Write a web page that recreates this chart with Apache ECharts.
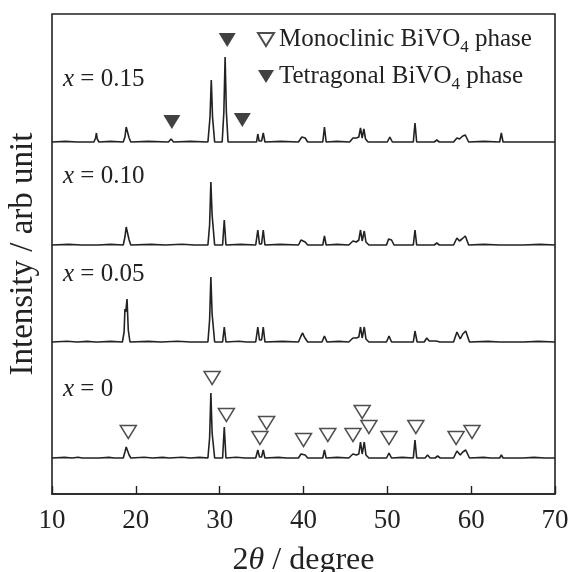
<!DOCTYPE html>
<html>
<head>
<meta charset="utf-8">
<script src="https://cdn.jsdelivr.net/npm/echarts@6/dist/echarts.min.js"></script>
<style>
  html, body { margin: 0; padding: 0; background: #fff; }
  #xrd { width: 571px; height: 572px; }
</style>
</head>
<body>
<div id="xrd"></div>
<script>
// 2theta / intensity pairs, intensity relative to each trace's own baseline
const samples = ["x = 0", "x = 0.05", "x = 0.10", "x = 0.15"];
const baselines = [36, 152, 249, 352];

const trace0 = [
  [10, 0], [11.5, 0.6], [12.4, 0], [13.1, 0.8], [13.6, 0], [15.2, 0], [15.4, 2], [15.6, 0],
  [16.8, 0.6], [17.4, 0], [18.5, 0], [18.7, 6], [18.85, 11], [18.95, 12], [19.05, 10], [19.2, 3], [19.4, 0],
  [21.0, 0.7], [22.0, 0], [23.2, 0.6], [24.0, 0], [25.5, 0.7], [26.5, 0], [27.6, 0.6],
  [28.6, 0], [28.8, 20], [28.95, 65], [29.1, 25], [29.4, 0],
  [30.35, 0], [30.55, 31], [30.75, 0], [32.0, 0.7], [33.0, 0],
  [34.3, 0], [34.55, 8], [34.75, 1], [35.0, 1], [35.2, 8], [35.4, 0],
  [37.0, 0.6], [38.0, 0], [39.4, 0], [39.7, 4], [39.9, 5], [40.2, 3], [40.5, 0],
  [42.3, 0], [42.5, 8], [42.7, 0], [44.0, 0.6],
  [45.4, 0], [45.9, 4], [46.3, 3], [46.6, 4], [46.8, 16], [47.0, 4], [47.25, 16], [47.45, 3], [47.8, 0],
  [49.9, 0], [50.2, 5], [50.5, 0], [51.8, 0.6],
  [53.1, 0], [53.3, 18], [53.5, 0],
  [54.5, 0], [54.8, 3], [55.1, 0], [55.7, 0], [56.0, 2], [56.3, 0],
  [57.9, 0], [58.3, 7], [58.7, 3], [59.0, 6], [59.35, 8], [59.8, 0],
  [61.5, 0.6], [62.3, 0], [63.4, 0], [63.6, 3], [63.8, 0], [65.8, 0], [66.0, 2], [66.2, 0],
  [67.5, 0.6], [68.8, 0], [69.0, 1], [69.2, 0], [70, 0]
];
const trace005 = [
  [10, 0], [11.8, 0.7], [13.0, 0], [14.2, 0.6], [15.2, 0], [15.35, 1], [15.5, 0], [17.0, 0.6],
  [18.4, 0], [18.6, 10], [18.7, 33], [18.8, 30], [18.95, 43], [19.1, 12], [19.3, 0],
  [21.5, 0.6], [23.0, 0], [25.0, 0.7], [26.5, 0],
  [28.6, 0], [28.8, 22], [28.95, 65], [29.1, 28], [29.4, 0],
  [30.35, 0], [30.55, 15], [30.75, 0], [32.3, 0.7], [33.2, 0],
  [34.3, 0], [34.55, 15], [34.75, 2], [35.0, 2], [35.2, 15], [35.4, 0],
  [37.5, 0.6], [39.4, 0], [39.7, 6], [39.9, 9], [40.1, 5], [40.5, 0],
  [42.2, 0], [42.5, 6], [42.8, 0], [44.2, 0.6],
  [45.4, 0], [45.9, 4], [46.3, 4], [46.6, 5], [46.8, 15], [47.0, 4], [47.25, 15], [47.45, 3], [47.8, 0],
  [49.9, 0], [50.2, 6], [50.5, 0],
  [53.1, 0], [53.3, 11], [53.55, 0],
  [54.4, 0], [54.7, 4], [55.0, 1], [55.8, 1], [56.0, 2], [56.3, 0],
  [57.9, 0], [58.3, 10], [58.7, 3], [59.0, 8], [59.35, 11], [59.8, 0],
  [62.0, 0.6], [63.4, 0], [63.6, 1], [63.8, 0], [65.9, 0], [66.0, 1], [66.2, 0], [68.0, 0.6], [70, 0]
];
const trace010 = [
  [10, 0], [12.0, 0.6], [13.5, 0], [15.2, 0], [15.35, 2], [15.5, 0], [17.0, 0.6],
  [18.5, 0], [18.7, 8], [18.85, 18], [18.95, 19], [19.05, 16], [19.2, 5], [19.4, 0],
  [21.8, 0.6], [23.5, 0], [25.5, 0.7], [27.0, 0],
  [28.6, 0], [28.8, 20], [28.95, 63], [29.1, 30], [29.4, 0],
  [30.35, 0], [30.55, 25], [30.75, 0], [32.5, 0.6],
  [34.3, 0], [34.55, 15], [34.75, 1], [35.0, 1], [35.2, 15], [35.4, 0],
  [37.2, 0.6], [39.4, 0], [39.7, 5], [39.9, 6], [40.2, 3], [40.5, 0],
  [42.3, 0], [42.5, 9], [42.7, 0], [44.0, 0.6],
  [45.4, 0], [45.9, 4], [46.3, 3], [46.6, 5], [46.8, 15], [47.0, 4], [47.25, 14], [47.45, 3], [47.8, 0],
  [49.9, 0], [50.15, 6], [50.35, 4], [50.5, 5], [50.8, 0],
  [53.1, 0], [53.3, 15], [53.5, 0],
  [55.6, 0], [55.9, 2], [56.2, 0],
  [57.9, 0], [58.3, 7], [58.6, 4], [58.9, 6], [59.3, 9], [59.7, 0],
  [61.5, 0.6], [63.4, 0], [63.6, 2], [63.8, 0], [65.8, 0], [66.0, 2], [66.2, 0], [68.2, 0.6], [70, 0]
];
const trace015 = [
  [10, 0], [11.6, 0.6], [13.0, 0], [15.0, 0], [15.2, 4], [15.3, 9], [15.4, 3], [15.6, 0],
  [17.0, 0.6], [18.5, 0], [18.7, 5], [18.85, 15], [18.95, 17], [19.05, 14], [19.2, 4], [19.4, 0],
  [21.5, 0.6], [23.9, 0], [24.2, 3], [24.5, 0], [26.5, 0.6],
  [28.6, 0], [28.85, 25], [29.0, 62], [29.15, 25], [29.4, 0],
  [30.3, 0], [30.5, 30], [30.65, 85], [30.8, 30], [31.0, 0],
  [32.4, 0], [32.6, 2], [32.8, 0],
  [34.4, 0], [34.55, 8], [34.7, 1], [35.0, 1], [35.2, 9], [35.4, 0],
  [37.3, 0.6], [39.4, 0], [39.8, 5], [40.2, 4], [40.5, 0],
  [42.3, 0], [42.5, 15], [42.7, 0], [44.0, 0.6],
  [45.5, 0], [45.9, 4], [46.3, 4], [46.6, 5], [46.8, 14], [47.0, 4], [47.2, 13], [47.4, 3], [47.7, 0],
  [50.0, 0], [50.3, 5], [50.6, 0],
  [53.1, 0], [53.3, 19], [53.5, 0],
  [55.6, 0], [55.9, 2], [56.2, 0],
  [57.9, 0], [58.3, 4], [58.6, 3], [59.0, 6], [59.3, 7], [59.7, 0],
  [61.5, 0.6], [63.4, 0], [63.6, 9], [63.8, 0],
  [65.8, 0], [66.0, 2], [66.2, 0], [68.8, 0], [69.0, 2], [69.2, 0], [70, 0]
];
const traces = [trace0, trace005, trace010, trace015];

// phase markers (2theta, plot height)
const monoclinicMarks = [
  [19.1, 62], [29.1, 116], [30.8, 79], [34.8, 56], [35.6, 71], [40.0, 54], [42.9, 59],
  [45.9, 59], [47.0, 82], [47.8, 67], [50.2, 56], [53.4, 67], [58.2, 56], [60.1, 62]
];
const tetragonalMarks = [[24.3, 372], [30.9, 454], [32.7, 374]];

const xTicks = [10, 20, 30, 40, 50, 60, 70];

const serif = "Liberation Serif";
const ink = "#222";
const downTriangle = "path://M0,0L16,0L8,13Z";

const chart = echarts.init(document.getElementById("xrd"));

const lineSeries = traces.map((t, i) => ({
  name: samples[i],
  type: "line",
  data: t.map((p) => [p[0], p[1] + baselines[i]]),
  showSymbol: false,
  silent: true,
  lineStyle: { color: ink, width: 1.6 },
  z: 2,
}));

const richName = (name) => "{t|" + name.replace("BiVO4", "BiVO}{sub|4}{t|") + "}";

chart.setOption({
  animation: false,
  grid: {
    left: 52,
    right: 16,
    top: 14,
    bottom: 78,
    show: true,
    borderColor: ink,
    borderWidth: 1.6,
    outerBoundsMode: "none",
  },
  legend: {
    orient: "vertical",
    left: 252,
    top: 22,
    itemWidth: 16,
    itemHeight: 13,
    itemGap: 8,
    data: [
      { name: "Monoclinic BiVO4 phase", icon: downTriangle },
      { name: "Tetragonal BiVO4 phase", icon: downTriangle },
    ],
    formatter: richName,
    textStyle: {
      color: ink,
      fontFamily: serif,
      fontSize: 25,
      rich: {
        t: { fontFamily: serif, fontSize: 25, color: ink },
        sub: { fontFamily: serif, fontSize: 17, color: ink, padding: [16, 0, 0, 0] },
      },
    },
  },
  xAxis: {
    type: "value",
    min: xTicks[0],
    max: xTicks[xTicks.length - 1],
    interval: 10,
    name: "2{i|θ} / degree",
    nameLocation: "middle",
    nameGap: 51,
    nameTextStyle: {
      fontFamily: serif,
      fontSize: 32,
      color: ink,
      rich: { i: { fontFamily: serif, fontSize: 32, fontStyle: "italic", color: ink } },
    },
    axisLine: { lineStyle: { color: ink, width: 1.6 } },
    axisTick: { inside: true, length: 8, lineStyle: { color: ink, width: 1.4 } },
    axisLabel: { fontFamily: serif, fontSize: 27, color: ink, margin: 13 },
    splitLine: { show: false },
  },
  yAxis: {
    type: "value",
    min: 0,
    max: 480,
    name: "Intensity / arb unit",
    nameLocation: "middle",
    nameGap: 12,
    nameTextStyle: { fontFamily: serif, fontSize: 33, color: ink },
    axisLine: { show: false },
    axisTick: { show: false },
    axisLabel: { show: false },
    splitLine: { show: false },
  },
  graphic: samples.map((s, i) => ({
    type: "text",
    left: 63,
    top: [377, 262, 164, 67][i],
    style: {
      text: "{i|x} " + s.slice(2),
      fontFamily: serif,
      fontSize: 25,
      fill: ink,
      rich: { i: { fontFamily: serif, fontSize: 25, fontStyle: "italic", fill: ink } },
    },
  })),
  series: lineSeries.concat([
    {
      name: "Monoclinic BiVO4 phase",
      type: "scatter",
      data: monoclinicMarks,
      symbol: "triangle",
      symbolRotate: 180,
      symbolSize: [16, 13],
      itemStyle: { color: "#fff", borderColor: ink, borderWidth: 1.5 },
      silent: true,
      z: 5,
    },
    {
      name: "Tetragonal BiVO4 phase",
      type: "scatter",
      data: tetragonalMarks,
      symbol: "triangle",
      symbolRotate: 180,
      symbolSize: [17, 14],
      itemStyle: { color: "#111" },
      silent: true,
      z: 5,
    },
  ]),
});
</script>
</body>
</html>
